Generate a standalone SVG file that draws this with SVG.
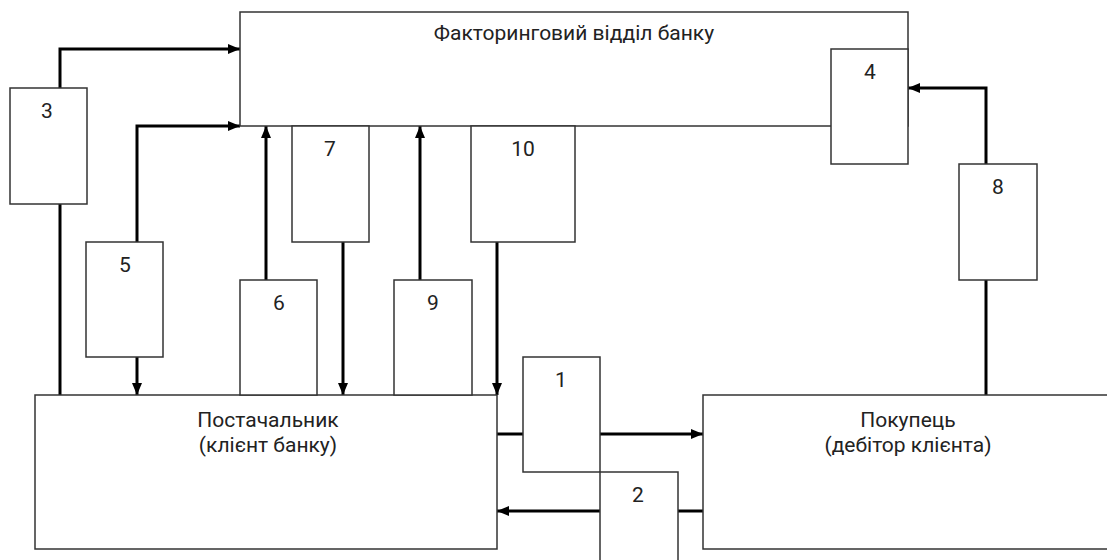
<svg xmlns="http://www.w3.org/2000/svg" width="1107" height="560" viewBox="0 0 1107 560">
<style>
.box{fill:#fff;stroke:#333;stroke-width:1.5}
.lbl{font-family:Roboto,"Liberation Sans",sans-serif;font-size:21px;fill:#222;text-anchor:middle}
.num{font-family:Roboto,"Liberation Sans",sans-serif;font-size:21px;fill:#222;text-anchor:middle}
.conn{fill:none;stroke:#000;stroke-width:3}
</style>
<defs>
<marker id="ah" viewBox="0 0 12 10" markerWidth="12" markerHeight="10" refX="12" refY="5" orient="auto" markerUnits="userSpaceOnUse">
<path d="M0,0 L12,5 L0,10 z" fill="#000"/>
</marker>
</defs>
<rect width="1107" height="560" fill="#fff"/>
<g id="connectors">
<path class="conn" d="M60,88 V49 H240" marker-end="url(#ah)"/>
<path class="conn" d="M60,204 V395"/>
<path class="conn" d="M137,242 V126 H240" marker-end="url(#ah)"/>
<path class="conn" d="M137,357 V395" marker-end="url(#ah)"/>
<path class="conn" d="M266,280 V126" marker-end="url(#ah)"/>
<path class="conn" d="M343,242 V395" marker-end="url(#ah)"/>
<path class="conn" d="M420,280 V126" marker-end="url(#ah)"/>
<path class="conn" d="M497,242 V395" marker-end="url(#ah)"/>
<path class="conn" d="M986,164 V88 H908" marker-end="url(#ah)"/>
<path class="conn" d="M986,280 V395"/>
<path class="conn" d="M497,434 H523"/>
<path class="conn" d="M600,434 H703" marker-end="url(#ah)"/>
<path class="conn" d="M703,511 H678"/>
<path class="conn" d="M600,511 H497" marker-end="url(#ah)"/>
</g>
<g id="bank">
<rect class="box" x="240" y="12" width="668" height="114"/>
<text class="lbl" x="574" y="40">Факторинговий відділ банку</text>
</g>
<g id="supplier">
<rect class="box" x="35" y="395" width="462" height="154"/>
<text class="lbl" x="268" y="427">Постачальник</text>
<text class="lbl" x="268" y="452">(клієнт банку)</text>
</g>
<g id="buyer">
<rect class="box" x="703" y="395" width="410" height="154"/>
<text class="lbl" x="908" y="427">Покупець</text>
<text class="lbl" x="908" y="452">(дебітор клієнта)</text>
</g>
<g id="n3"><rect class="box" x="10" y="88" width="77" height="116"/><text class="num" x="47" y="118">3</text></g>
<g id="n4"><rect class="box" x="831" y="49" width="77" height="115"/><text class="num" x="870" y="79">4</text></g>
<g id="n5"><rect class="box" x="86" y="242" width="77" height="115"/><text class="num" x="125" y="272">5</text></g>
<g id="n6"><rect class="box" x="240" y="280" width="77" height="115"/><text class="num" x="279" y="310">6</text></g>
<g id="n7"><rect class="box" x="292" y="126" width="77" height="116"/><text class="num" x="330" y="156">7</text></g>
<g id="n8"><rect class="box" x="959" y="164" width="78" height="116"/><text class="num" x="998" y="194">8</text></g>
<g id="n9"><rect class="box" x="394" y="280" width="78" height="115"/><text class="num" x="433" y="310">9</text></g>
<g id="n10"><rect class="box" x="471" y="126" width="104" height="116"/><text class="num" x="523" y="156">10</text></g>
<g id="n1"><rect class="box" x="523" y="357" width="77" height="115"/><text class="num" x="561" y="387">1</text></g>
<g id="n2"><rect class="box" x="600" y="472" width="78" height="100"/><text class="num" x="638" y="502">2</text></g>
</svg>
